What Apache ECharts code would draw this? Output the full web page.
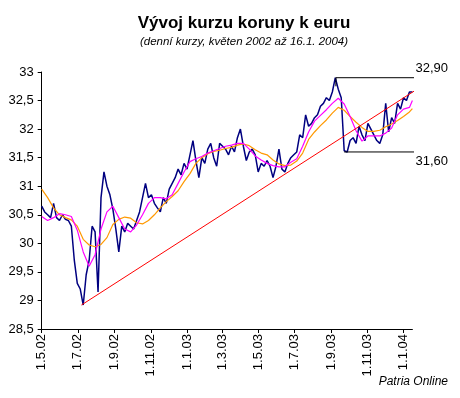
<!DOCTYPE html>
<html lang="cs">
<head>
    <meta charset="UTF-8">
    <title>Vývoj kurzu koruny k euru</title>
    <style>
        html, body { margin: 0; padding: 0; background: #fff; }
        #chart { width: 460px; height: 398px; }
    </style>
</head>
<body>
<div id="chart"></div>
<script src="https://cdn.jsdelivr.net/npm/echarts@6/dist/echarts.min.js"></script>
<script type="text/javascript">
    // osa x = dny od 1.5.2002
    var tickLabels = ['1.5.02', '1.7.02', '1.9.02', '1.11.02', '1.1.03', '1.3.03',
        '1.5.03', '1.7.03', '1.9.03', '1.11.03', '1.1.04'];
    var lastDate = '16.1.04';

    // denni kurz, vzorek kazdych 5 dni
    var kurzStep = 5;
    var kurz = [
        30.65, 30.55, 30.50, 30.45, 30.70, 30.45, 30.40, 30.50, 30.42, 30.40,
        30.30, 29.70, 29.30, 29.20, 28.92, 29.45, 29.70, 30.30, 30.20, 29.15,
        30.80, 31.25, 31.00, 30.85, 30.60, 30.25, 29.85, 30.30, 30.20, 30.35,
        30.30, 30.25, 30.40, 30.55, 30.80, 31.05, 30.80, 30.85, 30.70, 30.62,
        30.55, 30.80, 30.70, 30.95, 31.05, 31.15, 31.30, 31.20, 31.40, 31.30,
        31.55, 31.80, 31.45, 31.15, 31.50, 31.40, 31.65, 31.75, 31.50, 31.35,
        31.75, 31.70, 31.65, 31.55, 31.70, 31.60, 31.85, 32.00, 31.70, 31.45,
        31.60, 31.65, 31.55, 31.25, 31.40, 31.35, 31.45, 31.35, 31.15, 31.35,
        31.65, 31.30, 31.25, 31.40, 31.50, 31.55, 31.60, 31.90, 31.85, 32.25,
        32.05, 32.10, 32.20, 32.25, 32.40, 32.45, 32.55, 32.50, 32.65, 32.90,
        32.70, 32.55, 31.62, 31.60, 31.80, 31.85, 31.75, 32.05, 31.90, 31.80,
        32.10, 32.00, 31.90, 31.80, 31.75, 31.90, 32.45, 31.95, 32.20, 32.10,
        32.45, 32.35, 32.55, 32.50, 32.65, 32.65
    ];

    // klouzave prumery, vzorek kazdych 10 dni (posledni = 16.1.04)
    var maStep = 10;
    var maShort = [
        30.47, 30.40, 30.45, 30.52, 30.50, 30.47, 30.23, 29.85, 29.60, 29.80,
        30.25, 30.55, 30.65, 30.45, 30.25, 30.20, 30.32, 30.50, 30.70, 30.80,
        30.80, 30.78, 30.85, 31.05, 31.25, 31.43, 31.48, 31.52, 31.58, 31.62,
        31.66, 31.70, 31.72, 31.75, 31.75, 31.65, 31.53, 31.46, 31.40, 31.36,
        31.34, 31.34, 31.42, 31.48, 31.70, 31.95, 32.14, 32.24, 32.34, 32.45,
        32.54, 32.44, 32.22, 31.97, 31.79, 31.88, 31.88, 31.88, 31.93, 32.02,
        32.25, 32.35, 32.38, 32.50
    ];
    var maLong = [
        30.95, 30.80, 30.62, 30.50, 30.45, 30.41, 30.30, 30.07, 29.97, 29.94,
        29.98, 30.10, 30.33, 30.42, 30.46, 30.44, 30.36, 30.34, 30.40, 30.50,
        30.62, 30.73, 30.82, 30.92, 31.08, 31.22, 31.40, 31.50, 31.57, 31.61,
        31.63, 31.66, 31.68, 31.72, 31.74, 31.71, 31.64, 31.58, 31.55, 31.46,
        31.39, 31.36, 31.37, 31.44, 31.58, 31.82, 31.95, 32.06, 32.16, 32.28,
        32.38, 32.33, 32.22, 32.12, 32.03, 31.96, 31.96, 31.98, 32.04, 32.09,
        32.15, 32.22, 32.30, 32.36
    ];

    // trendova primka a hranice pasma
    var trend = [['7.7.02', 28.92], ['17.2.04', 32.86]];
    var highBand = [['9.9.03', 32.75], ['9.9.03', 32.90], ['16.3.04', 32.90]];
    var lowBand = [['23.9.03', 31.60], ['16.3.04', 31.60]];

    function dayOf(label) {
        var p = label.split('.').map(Number);
        return (Date.UTC(2000 + p[2], p[1] - 1, p[0]) - Date.UTC(2002, 4, 1)) / 864e5;
    }

    var tickDays = tickLabels.map(dayOf);
    var maxDay = dayOf(lastDate);
    var font = '"Liberation Sans", Arial, sans-serif';

    function sampled(arr, step) {
        return arr.map(function (v, i) {
            return [Math.min(i * step, maxDay), v];
        });
    }

    function band(arr) {
        return arr.map(function (p, i) {
            var item = {value: [dayOf(p[0]), p[1]]};
            if (i === arr.length - 1) {
                item.label = {
                    show: true,
                    position: arr === highBand ? 'top' : 'bottom',
                    align: 'right',
                    distance: 3,
                    color: '#000',
                    fontSize: 13,
                    fontFamily: font,
                    formatter: function (q) {
                        return q.value[1].toFixed(2).replace('.', ',');
                    }
                };
            }
            return item;
        });
    }

    var chart = echarts.init(document.getElementById('chart'));
    chart.setOption({
        animation: false,
        title: [{
            text: 'Vývoj kurzu koruny k euru',
            subtext: '(denní kurzy, květen 2002 až 16.1. 2004)',
            left: 239,
            top: 10,
            textAlign: 'center',
            itemGap: 4,
            textStyle: {fontSize: 17, fontWeight: 'bold', color: '#000', fontFamily: font},
            subtextStyle: {fontSize: 11.5, fontStyle: 'italic', color: '#000', fontFamily: font}
        }, {
            text: 'Patria Online',
            right: 7,
            bottom: 5,
            textStyle: {fontSize: 12, fontStyle: 'italic', fontWeight: 'normal', color: '#000', fontFamily: font}
        }],
        grid: {left: 41.7, right: 47.6, top: 72, bottom: 69},
        xAxis: {
            type: 'value',
            min: 0,
            max: maxDay,
            axisLine: {onZero: false, lineStyle: {color: '#000', width: 1}},
            axisTick: {customValues: tickDays, length: 4, lineStyle: {color: '#000'}},
            axisLabel: {
                customValues: tickDays,
                rotate: 90,
                margin: 5,
                color: '#000',
                fontSize: 13,
                fontFamily: font,
                formatter: function (v) {
                    return tickLabels[tickDays.indexOf(v)];
                }
            },
            splitLine: {show: false}
        },
        yAxis: {
            type: 'value',
            min: 28.5,
            max: 33,
            interval: 0.5,
            axisLine: {show: true, lineStyle: {color: '#000', width: 1}},
            axisTick: {show: true, length: 4, lineStyle: {color: '#000'}},
            axisLabel: {
                color: '#000',
                fontSize: 13,
                fontFamily: font,
                margin: 8,
                formatter: function (v) {
                    return String(v).replace('.', ',');
                }
            },
            splitLine: {show: false}
        },
        series: [{
            type: 'line',
            data: sampled(kurz, kurzStep),
            showSymbol: false,
            lineStyle: {color: '#000080', width: 1.5}
        }, {
            type: 'line',
            data: sampled(maLong, maStep),
            showSymbol: false,
            lineStyle: {color: '#ff9900', width: 1.2}
        }, {
            type: 'line',
            data: sampled(maShort, maStep),
            showSymbol: false,
            lineStyle: {color: '#ff00ff', width: 1.2}
        }, {
            type: 'line',
            data: trend.map(function (p) { return [dayOf(p[0]), p[1]]; }),
            showSymbol: false,
            clip: false,
            lineStyle: {color: '#ff0000', width: 1}
        }, {
            type: 'line',
            data: band(highBand),
            symbolSize: 0,
            clip: false,
            lineStyle: {color: '#000', width: 1}
        }, {
            type: 'line',
            data: band(lowBand),
            symbolSize: 0,
            clip: false,
            lineStyle: {color: '#000', width: 1}
        }]
    });
</script>
</body>
</html>
